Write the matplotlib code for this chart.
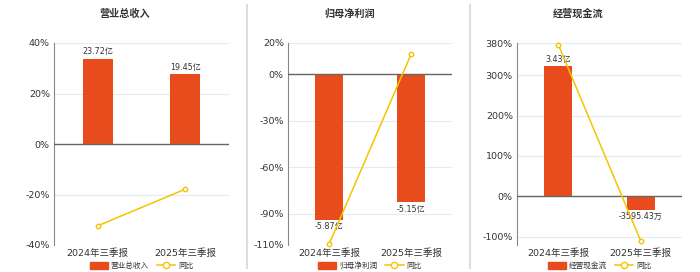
import matplotlib
matplotlib.use("Agg")
import matplotlib.pyplot as plt
from matplotlib.lines import Line2D
from matplotlib.patches import Patch

plt.rcParams['font.family'] = ['DejaVu Sans', 'Noto Sans CJK SC']

# report periods
periods = ['2024年三季报', '2025年三季报']

# 营业总收入 (亿) and YoY (%)
revenue = [23.72, 19.45]
revenue_labels = ['23.72亿', '19.45亿']
revenue_yoy = [-32.4, -17.9]

# 归母净利润 (亿) and YoY (%)
profit = [-5.87, -5.15]
profit_labels = ['-5.87亿', '-5.15亿']
profit_yoy = [-109.5, 12.6]

# 经营现金流 (亿) and YoY (%)
cashflow = [3.43, -0.359543]
cashflow_labels = ['3.43亿', '-3595.43万']
cashflow_yoy = [376.0, -111.0]

BAR_COLOR = '#E84C1C'
LINE_COLOR = '#F5C400'
GRID_COLOR = '#E6EAF4'
TEXT_COLOR = '#333333'

W, H = 700, 272
fig = plt.figure(figsize=(W / 100, H / 100), dpi=100)


def px_rect(left, right, top, bottom):
    return [left / W, 1 - bottom / H, (right - left) / W, (bottom - top) / H]


panels = [
    dict(title='营业总收入', name='营业总收入', bars=revenue, labels=revenue_labels,
         yoy=revenue_yoy, ylim=(-40, 40), ticks=[-40, -20, 0, 20, 40], scale=1.425,
         rect=px_rect(54, 229, 43, 245), tx=125),
    dict(title='归母净利润', name='归母净利润', bars=profit, labels=profit_labels,
         yoy=profit_yoy, ylim=(-110, 20), ticks=[-110, -90, -60, -30, 0, 20], scale=16.0,
         rect=px_rect(288, 452, 43, 245), tx=350),
    dict(title='经营现金流', name='经营现金流', bars=cashflow, labels=cashflow_labels,
         yoy=cashflow_yoy, ylim=(-121, 380), ticks=[-100, 0, 100, 200, 300, 380], scale=93.9,
         rect=px_rect(517, 682, 43, 245), tx=578),
]

for p in panels:
    ax = fig.add_axes(p['rect'])
    x = list(range(len(periods)))

    # percentage axis (left) with grid
    ax.set_ylim(*p['ylim'])
    ax.set_xlim(-0.5, 1.5)
    ax.set_yticks(p['ticks'])
    ax.set_yticklabels([f'{t}%' for t in p['ticks']])
    ax.tick_params(axis='y', length=0, labelsize=6.8, colors=TEXT_COLOR, pad=3)
    ax.set_xticks(x)
    ax.set_xticklabels(periods)
    ax.tick_params(axis='x', length=0, labelsize=6.8, colors=TEXT_COLOR, pad=2.5)
    for t in p['ticks']:
        ax.axhline(t, color=GRID_COLOR, lw=0.8, zorder=0)
    for s in ['top', 'right', 'bottom']:
        ax.spines[s].set_visible(False)
    ax.spines['left'].set_color('#888888')
    ax.spines['left'].set_linewidth(0.8)

    # amount axis, hidden, zero aligned with the percentage axis
    bx = ax.twinx()
    bx.set_ylim(p['ylim'][0] / p['scale'], p['ylim'][1] / p['scale'])
    bx.set_xlim(-0.5, 1.5)
    bx.axis('off')
    bx.bar(x, p['bars'], width=0.34, color=BAR_COLOR, zorder=2)
    span = (p['ylim'][1] - p['ylim'][0]) / p['scale']
    for xi, v, lab in zip(x, p['bars'], p['labels']):
        off = span * 0.012
        if v >= 0:
            bx.text(xi, v + off, lab, ha='center', va='bottom', fontsize=5.8, color=TEXT_COLOR)
        else:
            bx.text(xi, v - off, lab, ha='center', va='top', fontsize=5.8, color=TEXT_COLOR)
    bx.axhline(0, color='#666666', lw=1.0, zorder=3)

    # YoY line on top
    lx = ax.twinx()
    lx.set_ylim(*p['ylim'])
    lx.set_xlim(-0.5, 1.5)
    lx.axis('off')
    lx.plot(x, p['yoy'], color=LINE_COLOR, lw=1.1, marker='o', ms=3.2,
            mfc='white', mec=LINE_COLOR, mew=1, zorder=4, clip_on=False)

    fig.text(p['tx'] / W, 1 - 14 / H, p['title'], ha='center', va='center',
             fontsize=7.3, fontweight='bold', color=TEXT_COLOR)

    handles = [
        Patch(facecolor=BAR_COLOR, edgecolor=BAR_COLOR, label=p['name']),
        Line2D([0], [0], color=LINE_COLOR, lw=1.1, marker='o', ms=4.5,
               mfc='white', mec=LINE_COLOR, label='同比'),
    ]
    ax.legend(handles=handles, loc='upper center', bbox_to_anchor=(0.5, -0.065),
              ncol=2, frameon=False, fontsize=5.5, handlelength=2.4,
              handleheight=1.1, columnspacing=1.0, handletextpad=0.4,
              labelcolor=TEXT_COLOR, borderaxespad=0)

# panel separators
for sx in [247, 470]:
    fig.add_artist(Line2D([sx / W, sx / W], [1 - 268 / H, 1 - 5 / H],
                          color='#DDDDDD', lw=1.5))

fig.savefig('out.png', dpi=100, facecolor='white')
